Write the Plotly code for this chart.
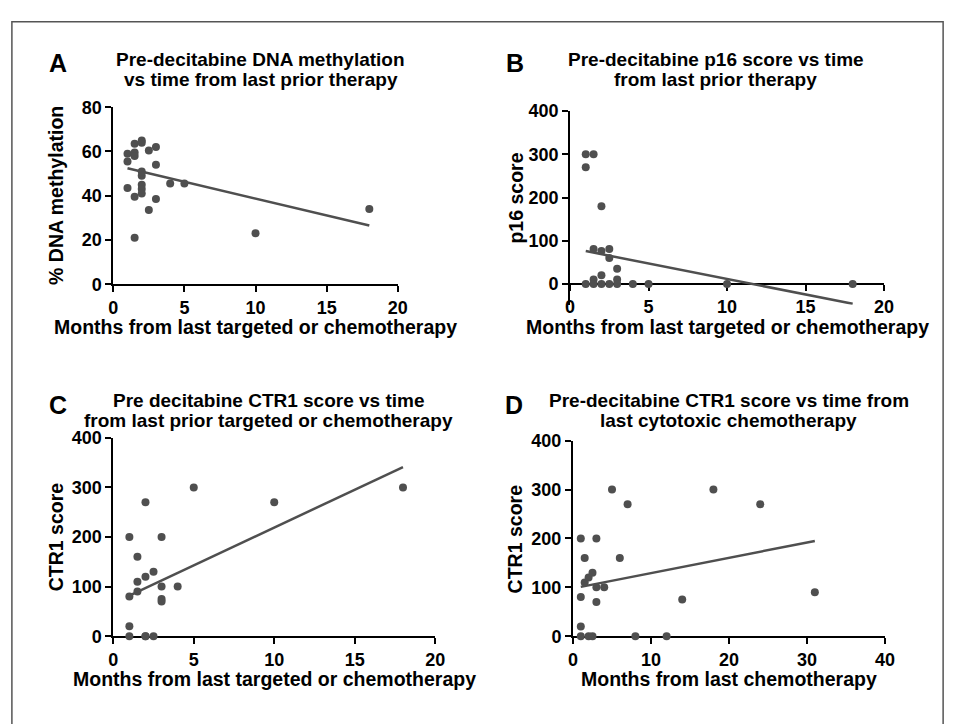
import plotly.graph_objects as go

W, H = 961, 724

# ---------------- data ----------------
a_months = [1, 1, 1, 1.5, 1.5, 1.5, 1.5, 1.5, 2, 2, 2, 2, 2, 2, 2, 2.5, 2.5, 3, 3, 3, 4, 5, 10, 18]
a_methyl = [59, 55.5, 43.5, 63.5, 59.5, 58, 39.5, 21, 65, 64, 51, 49, 45, 43, 41, 60.5, 33.5, 62, 54, 38.5, 45.5, 45.5, 23, 34]
a_fit_x = [1, 18]
a_fit_y = [52.4, 26.5]

b_months = [1, 1, 1, 1.5, 1.5, 1.5, 1.5, 2, 2, 2, 2, 2.5, 2.5, 2.5, 3, 3, 3, 4, 5, 10, 18]
b_p16 = [300, 270, 0, 300, 81, 10, 0, 180, 76, 20, 0, 81, 60, 0, 35, 10, 0, 0, 0, 0, 0]
b_fit_x = [1, 18]
b_fit_y = [76, -46]

c_months = [1, 1, 1, 1, 1.5, 1.5, 1.5, 2, 2, 2, 2, 2.5, 2.5, 3, 3, 3, 3, 4, 5, 10, 18]
c_ctr1 = [200, 80, 20, 0, 160, 110, 90, 270, 120, 0, 0, 130, 0, 200, 100, 75, 70, 100, 300, 270, 300]
c_fit_x = [1, 18]
c_fit_y = [82, 341]

d_months = [1, 1, 1, 1, 1.5, 1.5, 2, 2, 2.5, 2.5, 3, 3, 3, 4, 5, 6, 7, 8, 12, 14, 18, 24, 31]
d_ctr1 = [200, 80, 20, 0, 160, 110, 120, 0, 130, 0, 200, 100, 70, 100, 300, 160, 270, 0, 0, 75, 300, 270, 90]
d_fit_x = [1, 31]
d_fit_y = [101, 195]

titles = [
    ("Pre-decitabine DNA methylation", "vs time from last prior therapy"),
    ("Pre-decitabine p16 score vs time", "from last prior therapy"),
    ("Pre decitabine CTR1 score vs time", "from last prior targeted or chemotherapy"),
    ("Pre-decitabine CTR1 score vs time from", "last cytotoxic chemotherapy"),
]
letters = ["A", "B", "C", "D"]
x_titles = ["Months from last targeted or chemotherapy", "Months from last targeted or chemotherapy",
            "Months from last targeted or chemotherapy", "Months from last chemotherapy"]
y_titles = ["% DNA methylation", "p16 score", "CTR1 score", "CTR1 score"]

a_yticks = [0, 20, 40, 60, 80]
score_ticks = [0, 100, 200, 300, 400]
x20_ticks = [0, 5, 10, 15, 20]
x40_ticks = [0, 10, 20, 30, 40]

# ---------------- layout helpers ----------------
def fx(px):
    return px / W

def fy(py):
    return 1 - py / H

FONT = "Liberation Sans, Arial, sans-serif"
PT = "#4f4f4f"

panels = [
    dict(xp=(110, 399), yp=(100, 282), xr=[0, 20], yr=[0, 80], xt=x20_ticks, yt=a_yticks,
         x=a_months, y=a_methyl, fxs=a_fit_x, fys=a_fit_y, zero_py=282),
    dict(xp=(574, 893), yp=(104, 303), xr=[0, 20], yr=[-48, 400], xt=x20_ticks, yt=score_ticks,
         x=b_months, y=b_p16, fxs=b_fit_x, fys=b_fit_y, zero_py=282),
    dict(xp=(110, 437), yp=(440, 644), xr=[0, 20], yr=[0, 400], xt=x20_ticks, yt=score_ticks,
         x=c_months, y=c_ctr1, fxs=c_fit_x, fys=c_fit_y, zero_py=644),
    dict(xp=(577, 894), yp=(443, 644), xr=[0, 40], yr=[0, 400], xt=x40_ticks, yt=score_ticks,
         x=d_months, y=d_ctr1, fxs=d_fit_x, fys=d_fit_y, zero_py=644),
]

fig = go.Figure()
layout = dict(
    width=W, height=H, margin=dict(l=0, r=0, t=0, b=0),
    paper_bgcolor="white", plot_bgcolor="white", showlegend=False,
    font=dict(family=FONT, color="black"),
)
annotations = []

tick_font = dict(family=FONT, size=18, color="black", weight="bold")
title_font = dict(family=FONT, size=19, color="black", weight="bold")
xlabel_font = dict(family=FONT, size=19.5, color="black", weight="bold")
ylabel_font = dict(family=FONT, size=19.5, color="black", weight="bold")
for i, p in enumerate(panels):
    n = "" if i == 0 else str(i + 1)
    xa, ya = "x" + n, "y" + n
    fig.add_trace(go.Scatter(x=p["fxs"], y=p["fys"], mode="lines", xaxis=xa, yaxis=ya,
                             line=dict(color=PT, width=2.5), cliponaxis=False, hoverinfo="skip"))
    fig.add_trace(go.Scatter(x=p["x"], y=p["y"], mode="markers", xaxis=xa, yaxis=ya,
                             marker=dict(color=PT, size=8, line=dict(width=0)), cliponaxis=False))
    xdom = [fx(p["xp"][0]), fx(p["xp"][1])]
    ydom = [fy(p["yp"][1]), fy(p["yp"][0])]
    common = dict(showgrid=False, zeroline=False, showline=True, linecolor="black", linewidth=2,
                  ticks="outside", ticklen=6, tickwidth=2, tickcolor="black", tickfont=tick_font,
                  layer="below traces")
    xaxis = dict(domain=xdom, range=p["xr"], tickvals=p["xt"], **common)
    if p["zero_py"] != p["yp"][1]:
        xaxis.update(anchor="free", position=fy(p["zero_py"]))
    else:
        xaxis.update(anchor=ya)
    yaxis = dict(domain=ydom, range=p["yr"], tickvals=p["yt"], anchor=xa, **common)
    layout["xaxis" + n] = xaxis
    layout["yaxis" + n] = yaxis

    # panel title
    xc = (p["xp"][0] + p["xp"][1]) / 2
    ty = 51 if i < 2 else 402
    tcx = [260, 722, 268, 735][i]
    for k, line in enumerate(titles[i]):
        annotations.append(dict(text=line, x=fx(tcx), y=fy(ty + k * 20), xref="paper", yref="paper",
                                showarrow=False, xanchor="center", yanchor="middle", font=title_font))
    lx = [54, 518, 54, 517][i]
    annotations.append(dict(text=letters[i], x=fx(lx), y=fy(ty + 4), xref="paper", yref="paper",
                            showarrow=False, xanchor="center", yanchor="middle",
                            font=dict(family=FONT, size=25, color="black", weight="bold")))
    # x title
    xty = 326 if i < 2 else 688
    annotations.append(dict(text=x_titles[i], x=fx(xc), y=fy(xty), xref="paper", yref="paper",
                            showarrow=False, xanchor="center", yanchor="middle", font=xlabel_font))
    # y title
    ytx = [52, 519, 52, 519][i]
    yc = (p["yp"][0] + p["yp"][1]) / 2 if i != 1 else (104 + 282) / 2
    annotations.append(dict(text=y_titles[i], x=fx(ytx), y=fy(yc), xref="paper", yref="paper",
                            showarrow=False, xanchor="center", yanchor="middle", textangle=-90,
                            font=ylabel_font))

layout["annotations"] = annotations
layout["shapes"] = [dict(type="rect", xref="paper", yref="paper", x0=fx(7), x1=fx(953),
                         y0=fy(735), y1=fy(12), line=dict(color="#555555", width=1.5),
                         fillcolor="rgba(0,0,0,0)", layer="below")]
fig.update_layout(**layout)
fig.write_html("out.html", config={"displayModeBar": False},
               post_script="document.body.style.margin='0';document.body.style.overflow='hidden';")
